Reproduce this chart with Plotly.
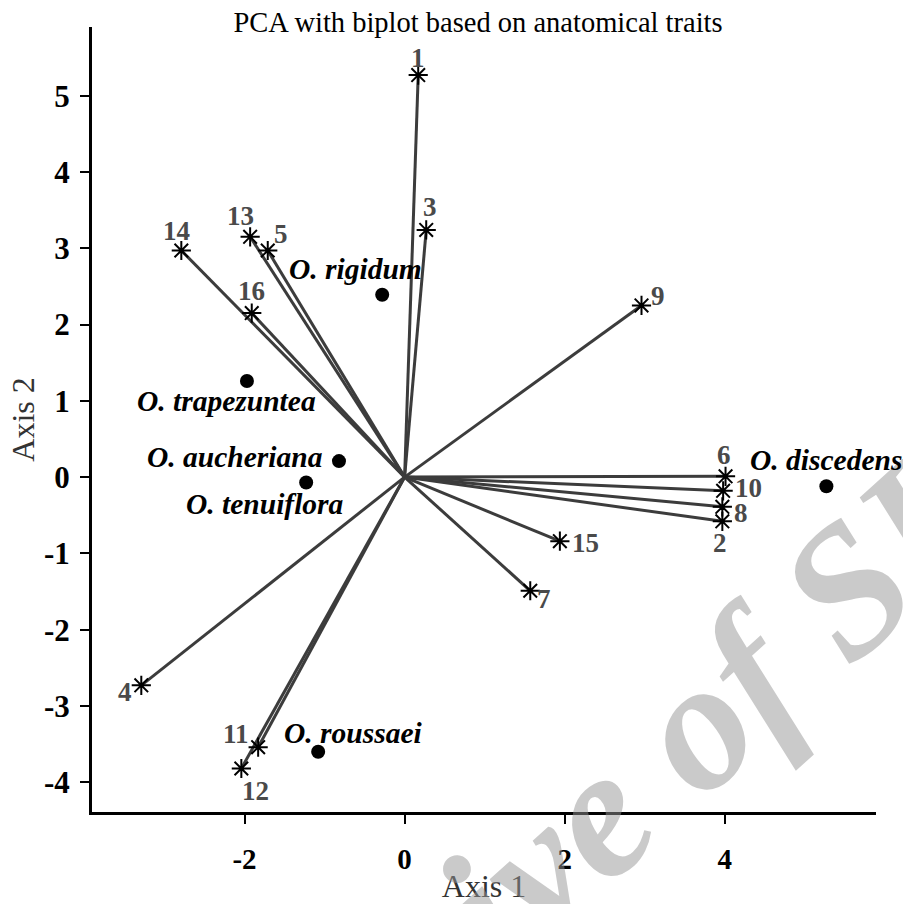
import plotly.graph_objects as go

# ---- data ----
var_labels = ["1", "2", "3", "4", "5", "6", "7", "8", "9", "10", "11", "12", "13", "14", "15", "16"]
var_x = [0.17, 3.97, 0.27, -3.29, -1.71, 4.01, 1.57, 3.97, 2.96, 3.98, -1.83, -2.04, -1.93, -2.79, 1.94, -1.91]
var_y = [5.27, -0.58, 3.24, -2.73, 2.97, 0.01, -1.49, -0.39, 2.25, -0.18, -3.54, -3.82, 3.15, 2.97, -0.84, 2.15]

species = ["O. rigidum", "O. trapezuntea", "O. aucheriana", "O. tenuiflora", "O. discedens", "O. roussaei"]
sp_x = [-0.28, -1.97, -0.82, -1.23, 5.27, -1.08]
sp_y = [2.39, 1.26, 0.21, -0.07, -0.12, -3.60]

x_ticks = [-2, 0, 2, 4]
y_ticks = [-4, -3, -2, -1, 0, 1, 2, 3, 4, 5]

# ---- label placement (pixel offsets: dx right, dy down) ----
var_offsets = {
    "1": (0, -17), "2": (-2, 22), "3": (4, -23), "4": (-16, 7), "5": (13, -17),
    "6": (-2, -21), "7": (14, 8), "8": (19, 6), "9": (16, -9), "10": (25, -3),
    "11": (-22, -13), "12": (14, 22), "13": (-10, -21), "14": (-5, -20),
    "15": (26, 2), "16": (0, -22),
}
sp_offsets = {
    "O. rigidum": (-27, -26, "center"), "O. trapezuntea": (-20, 20, "center"),
    "O. aucheriana": (-14, -4, "right"), "O. tenuiflora": (-41, 22, "center"),
    "O. discedens": (0, -26, "center"), "O. roussaei": (35, -19, "center"),
}

SERIF = "Liberation Serif"
W, H = 903, 904
L, R, T, B = 92, 27, 27, 92

fig = go.Figure()

# vectors from origin
lx, ly = [], []
for vx, vy in zip(var_x, var_y):
    lx += [0, vx, None]
    ly += [0, vy, None]
fig.add_trace(go.Scatter(x=lx, y=ly, mode="lines",
                         line=dict(color="#3c3c3c", width=3),
                         hoverinfo="skip", showlegend=False))
# variable end points
fig.add_trace(go.Scatter(x=var_x, y=var_y, mode="markers", text=var_labels,
                         marker=dict(symbol="asterisk-open", size=16, color="black",
                                     line=dict(color="black", width=2)),
                         showlegend=False))
# species points
fig.add_trace(go.Scatter(x=sp_x, y=sp_y, mode="markers", text=species,
                         marker=dict(symbol="circle", size=14, color="black"),
                         showlegend=False))

annotations = []
# watermark (drawn first)
wm_px = (605, 805)
annotations.append(dict(x=(wm_px[0] - L) / (W - L - R), y=(H - B - wm_px[1]) / (H - T - B),
                        xref="paper", yref="paper", text="Archive of SID",
                        showarrow=False, textangle=-42, xanchor="center", yanchor="middle",
                        font=dict(family=SERIF, size=185, color="rgba(150,150,150,0.5)",
                                  weight="bold", style="italic")))
for lab, vx, vy in zip(var_labels, var_x, var_y):
    dx, dy = var_offsets[lab]
    annotations.append(dict(x=vx, y=vy, xref="x", yref="y", text=lab, showarrow=False,
                            xshift=dx, yshift=-dy, xanchor="center", yanchor="middle",
                            font=dict(family=SERIF, size=27, color="#4a4a4a", weight="bold")))
for name, sx, sy in zip(species, sp_x, sp_y):
    dx, dy, anc = sp_offsets[name]
    annotations.append(dict(x=sx, y=sy, xref="x", yref="y", text=name, showarrow=False,
                            xshift=dx, yshift=-dy, xanchor=anc, yanchor="middle",
                            font=dict(family=SERIF, size=29.5, color="black",
                                      weight="bold", style="italic")))

fig.update_layout(
    width=W, height=H,
    margin=dict(l=L, r=R, t=T, b=B, autoexpand=False),
    plot_bgcolor="white", paper_bgcolor="white",
    title=dict(text="PCA with biplot based on anatomical traits",
               x=478 / W, xref="container", xanchor="center",
               y=1 - 22 / H, yref="container", yanchor="middle",
               font=dict(family=SERIF, size=28.5, color="black")),
    annotations=annotations,
    xaxis=dict(range=[-3.906, 5.89], tickvals=x_ticks, ticktext=[str(v) for v in x_ticks],
               showgrid=False, zeroline=False,
               showline=True, linecolor="black", linewidth=3,
               ticks="outside", ticklen=9, tickwidth=2, tickcolor="black",
               ticklabelstandoff=10,
               tickfont=dict(family=SERIF, size=29, color="black", weight="bold"),
               title=dict(text="Axis 1", standoff=13,
                          font=dict(family=SERIF, size=32, color="#333333"))),
    yaxis=dict(range=[-4.39, 5.9], tickvals=y_ticks, ticktext=[str(v) for v in y_ticks],
               showgrid=False, zeroline=False,
               showline=True, linecolor="black", linewidth=3,
               ticks="outside", ticklen=9, tickwidth=2, tickcolor="black",
               ticklabelstandoff=4,
               tickfont=dict(family=SERIF, size=31, color="black", weight="bold"),
               title=dict(text="Axis 2", standoff=0,
                          font=dict(family=SERIF, size=32, color="#333333"))),
)

fig.write_html("out.html", config={"displayModeBar": False},
               post_script="document.body.style.margin='0';document.body.style.overflow='hidden';")
